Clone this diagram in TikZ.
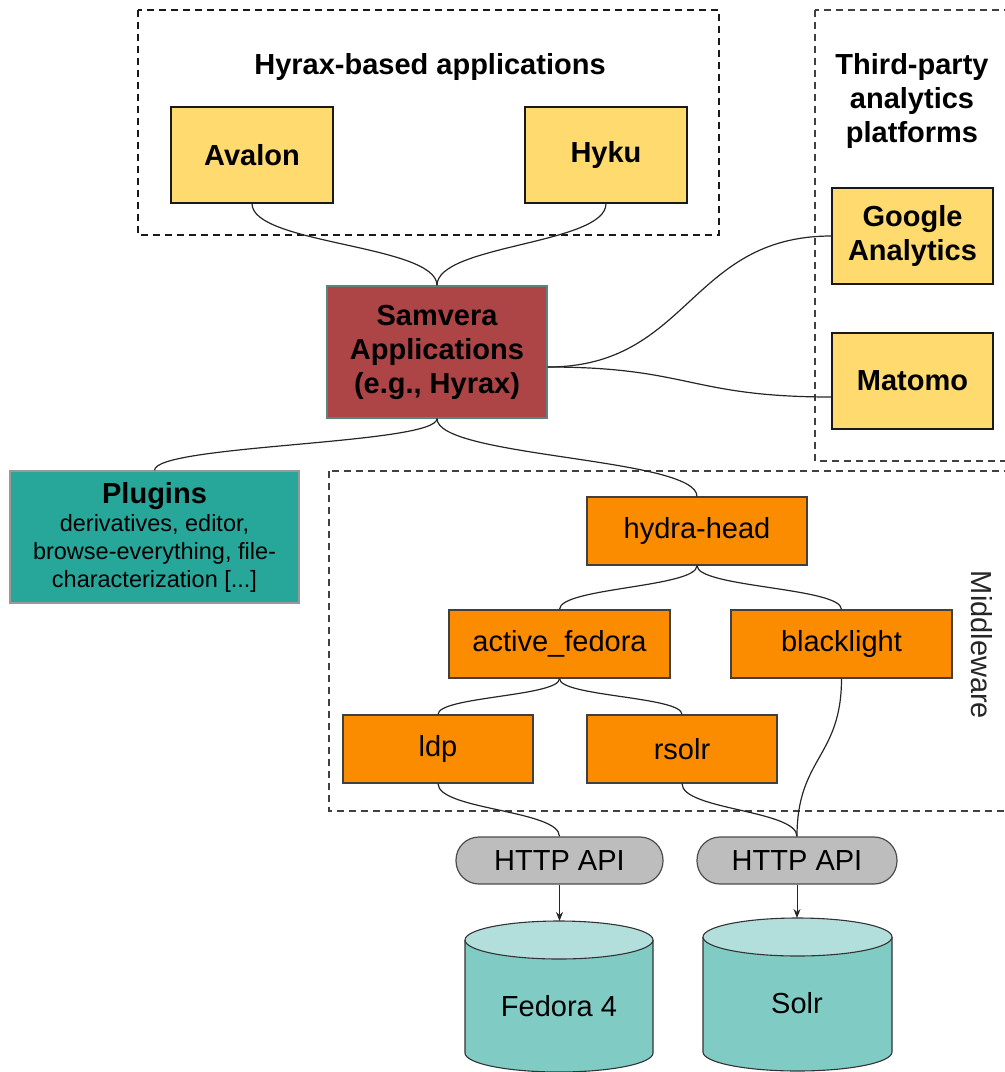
\documentclass[tikz,border=0pt]{standalone}
\usepackage{fontspec}
\setmainfont{Liberation Sans}
\usetikzlibrary{arrows.meta}

\definecolor{appyellow}{HTML}{FFDA6E}
\definecolor{samred}{HTML}{AD4446}
\definecolor{samedge}{HTML}{5A8480}
\definecolor{plugteal}{HTML}{27A69A}
\definecolor{midorange}{HTML}{FB8C00}
\definecolor{apigray}{HTML}{BDBDBD}
\definecolor{dbbody}{HTML}{80CBC4}
\definecolor{dbtop}{HTML}{B2DFDB}

% curved connectors with vertical / horizontal ends
\newcommand{\vlink}[2]{%
  \path (#1) -- (#2) coordinate[pos=.5] (mid);
  \draw[link] (#1) .. controls (#1 |- mid) and (#2 |- mid) .. (#2);}
\newcommand{\hlink}[2]{%
  \path (#1) -- (#2) coordinate[pos=.5] (mid);
  \draw[link] (#1) .. controls (mid |- #1) and (mid |- #2) .. (#2);}

\begin{document}
\begin{tikzpicture}[x=1pt,y=-1pt,
    link/.style={draw=black!85,line width=1.2pt},
    grp/.style={draw=black!75,line width=1.2pt,dash pattern=on 7pt off 5pt},
    box/.style={draw,inner sep=0pt,align=center,line width=1.2pt},
    bigtxt/.style={font=\bfseries\fontsize{29}{34}\selectfont,align=center},
    appbox/.style={box,bigtxt,fill=appyellow,draw=black!90,minimum width=162pt,minimum height=96pt},
    midbox/.style={box,fill=midorange,draw=black!75,font=\fontsize{29}{34}\selectfont,minimum height=68pt},
    apibox/.style={box,fill=apigray,draw=black!70,rounded corners=23pt,minimum height=47pt,font=\fontsize{29}{34}\selectfont},
    dbtxt/.style={font=\fontsize{29}{34}\selectfont}]
  \useasboundingbox (0,0) rectangle (1005,1072);

  % dashed groups
  \draw[grp,draw=black!90,line width=1.4pt] (138,10) rectangle (719,235);
  \draw[grp] (815,10) rectangle (1020,461);
  \draw[grp] (329,471) rectangle (1020,811);
  \node[bigtxt] (hyraxtitle) at (430,67) {Hyrax-based applications};
  \node[bigtxt] (thirdtitle) at (912,101) {Third-party\\analytics\\platforms};
  \node[font=\fontsize{29}{34}\selectfont,text=black!85,rotate=-90] (mwlabel) at (982,645) {Middleware};

  % boxes
  \node[appbox] (avalon) at (252,155) {Avalon};
  \node[appbox] (hyku) at (606,155) {Hyku};
  \node[appbox,minimum width=161pt] (google) at (912.5,236) {Google\\Analytics};
  \node[appbox,minimum width=161pt] (matomo) at (912.5,381) {Matomo};
  \node[box,bigtxt,fill=samred,draw=samedge,minimum width=220pt,minimum height=132pt] (samvera) at (437,352) {Samvera\\Applications\\(e.g., Hyrax)};
  \node[box,fill=plugteal,draw=black!40,minimum width=289pt,minimum height=132pt,font=\fontsize{23.5}{28}\selectfont] (plugins) at (154.5,537)
    {{\bfseries\fontsize{29}{34}\selectfont Plugins}\\derivatives, editor,\\browse-everything, file-\\characterization [...]};
  \node[midbox,minimum width=220pt] (hydra) at (697,531) {hydra-head};
  \node[midbox,minimum width=221pt] (afedora) at (559.5,644) {active\_fedora};
  \node[midbox,minimum width=221pt] (blacklight) at (841.5,644) {blacklight};
  \node[midbox,minimum width=190pt] (ldp) at (438,749) {ldp};
  \node[midbox,minimum width=190pt] (rsolr) at (682,749) {rsolr};
  \node[apibox,minimum width=207pt] (api1) at (559.5,860.5) {HTTP API};
  \node[apibox,minimum width=200pt] (api2) at (797,860.5) {HTTP API};

  % data stores
  \filldraw[fill=dbbody,draw=black!80,line width=1.1pt] (465,940) -- (465,1053)
    arc[start angle=180,end angle=360,x radius=94pt,y radius=19pt] -- (653,940);
  \filldraw[fill=dbtop,draw=black!80,line width=1.1pt] (559,940) ellipse[x radius=94pt,y radius=19pt];
  \filldraw[fill=dbbody,draw=black!80,line width=1.1pt] (703,937) -- (703,1052)
    arc[start angle=180,end angle=360,x radius=94.5pt,y radius=19pt] -- (892,937);
  \filldraw[fill=dbtop,draw=black!80,line width=1.1pt] (797.5,937) ellipse[x radius=94.5pt,y radius=19pt];
  \coordinate (fedoratop) at (559.5,921);
  \coordinate (solrtop) at (797,918);
  \node[dbtxt] (fedora) at (559,1006) {Fedora 4};
  \node[dbtxt] (solr) at (797,1003) {Solr};

  % connectors
  \vlink{avalon.south}{samvera.north}
  \vlink{hyku.south}{samvera.north}
  \coordinate (samout) at ([yshift=-15pt]samvera.east);
  \coordinate (matin) at ([yshift=-16pt]matomo.west);
  \hlink{samout}{google.west}
  \hlink{samout}{matin}
  \vlink{samvera.south}{plugins.north}
  \vlink{samvera.south}{hydra.north}
  \vlink{hydra.south}{afedora.north}
  \vlink{hydra.south}{blacklight.north}
  \vlink{afedora.south}{ldp.north}
  \vlink{afedora.south}{rsolr.north}
  \vlink{ldp.south}{api1.north}
  \vlink{rsolr.south}{api2.north}
  \vlink{blacklight.south}{api2.north}
  \draw[link,line width=1pt,-{Stealth[length=9pt,width=7pt]}] (api1.south) -- (fedoratop);
  \draw[link,line width=1pt,-{Stealth[length=9pt,width=7pt]}] (api2.south) -- (solrtop);
\end{tikzpicture}
\end{document}
